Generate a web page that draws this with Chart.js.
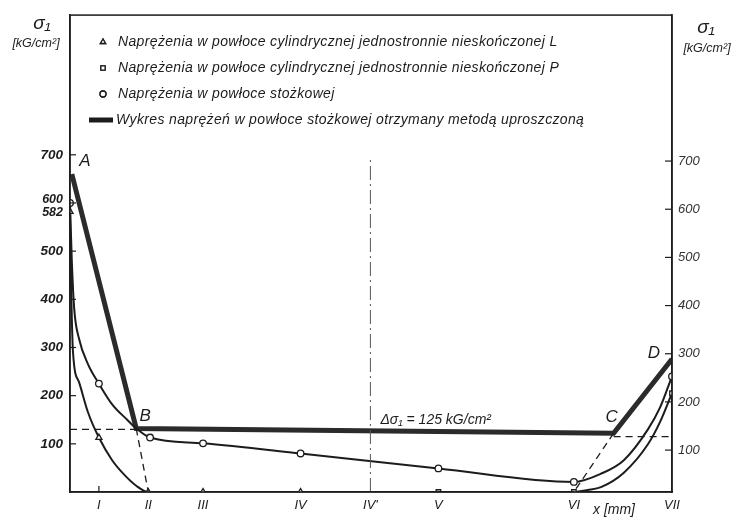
<!DOCTYPE html>
<html><head><meta charset="utf-8">
<script src="https://cdn.jsdelivr.net/npm/chart.js@4.4.0/dist/chart.umd.min.js"></script>
<style>html,body{margin:0;padding:0;background:#fff}#wrap{position:relative;width:745px;height:521px}</style>
</head><body><div id="wrap"><canvas id="c" width="745" height="521"></canvas></div>
<script>
// Stations along the shell (positions on the x axis, arbitrary length units)
const stationLabels = ['I','II','III','IV',"IV'",'V','VI','VII'];
const stationX = [4.8, 13.0, 22.1, 38.3, 49.9, 61.2, 83.7, 100];
const leftTicks = [100, 200, 300, 400, 500, 582, 600, 700];
const rightTicks = [100, 200, 300, 400, 500, 600, 700];

// Stresses in the conical shell (circles)
const conicalX = [0, 0.3, 0.7, 1.5, 3, 4.8, 7, 9.5, 11, 13.3, 22.1, 38.3, 61.2, 83.7, 88.2, 92, 96, 98, 100];
const conicalY = [600, 480, 380, 318, 265, 225, 182, 150, 132, 113, 101, 80, 49, 21, 38, 66, 130, 175, 240];
const conicalMarked = [0, 4.8, 13.3, 22.1, 38.3, 61.2, 83.7, 100];

// Stresses in the semi-infinite cylindrical shell L (triangles)
const cylLX = [0, 0.2, 0.5, 1.5, 3, 4.8, 7, 9, 11, 13.0, 22.1, 38.3, 49.9, 61.2, 83.7];
const cylLY = [582, 420, 290, 228, 165, 113, 66, 36, 13, 0, 0, 0, 0, 0, 0];
const cylLMarked = [0, 4.8, 13.0, 22.1, 38.3];

// Stresses in the semi-infinite cylindrical shell P (squares)
const cylPX = [61.2, 83.7, 86, 88.2, 92, 96, 98, 100];
const cylPY = [0, 0, 4, 10, 40, 99, 145, 205];
const cylPMarked = [61.2, 83.7, 100];

// Simplified method A-B-C-D (thick line)
const simpleX = [0.3, 11.0, 90.3, 100];
const simpleY = [660, 132, 122, 276];
const simpleNames = ['A', 'B', 'C', 'D'];

// Construction lines
const dashBX = [11.0, 13.0], dashBY = [132, 0];
const dashCX = [90.3, 83.7], dashCY = [122, 0];
const levelLeftX = [0, 11.0], levelLeftY = [130, 130];
const levelRightX = [90.3, 100], levelRightY = [115, 115];
const axisIVX = [49.9, 49.9], axisIVY = [0, 690];
const deltaLabel = 'Δσ₁ = 125 kG/cm²';

const legendItems = [
  {style: 'triangle', text: 'Naprężenia w powłoce cylindrycznej jednostronnie nieskończonej L'},
  {style: 'rect', text: 'Naprężenia w powłoce cylindrycznej jednostronnie nieskończonej P'},
  {style: 'circle', text: 'Naprężenia w powłoce stożkowej'},
  {style: 'line', text: 'Wykres naprężeń w powłoce stożkowej otrzymany metodą uproszczoną'}
];

const INK = '#1c1c1c';
const FONT = '"Liberation Sans", Arial, sans-serif';
const pts = (xs, ys) => xs.map((x, i) => ({x, y: ys[i]}));
const markR = (marked, r) => (c) => (c.raw && marked.includes(c.raw.x)) ? r : 0;
const nudged = {600: -3, 582: 1};

const datasets = [
  {label: 'axisIV', data: pts(axisIVX, axisIVY), showLine: true, borderColor: '#555', borderWidth: 1, borderDash: [14, 4, 2, 4], pointRadius: 0},
  {label: 'levelL', data: pts(levelLeftX, levelLeftY), showLine: true, borderColor: INK, borderWidth: 1.3, borderDash: [7, 5], pointRadius: 0},
  {label: 'levelR', data: pts(levelRightX, levelRightY), showLine: true, borderColor: INK, borderWidth: 1.3, borderDash: [7, 5], pointRadius: 0},
  {label: 'dashB', data: pts(dashBX, dashBY), showLine: true, borderColor: INK, borderWidth: 1.3, borderDash: [7, 5], pointRadius: 0},
  {label: 'dashC', data: pts(dashCX, dashCY), showLine: true, borderColor: INK, borderWidth: 1.3, borderDash: [7, 5], pointRadius: 0},
  {label: legendItems[0].text, data: pts(cylLX, cylLY), showLine: true, borderColor: INK, borderWidth: 2, cubicInterpolationMode: 'monotone',
   pointStyle: 'triangle', pointRadius: markR(cylLMarked, 3.5), pointBackgroundColor: '#fff', pointBorderColor: INK, pointBorderWidth: 1.3},
  {label: legendItems[1].text, data: pts(cylPX, cylPY), showLine: true, borderColor: INK, borderWidth: 2, cubicInterpolationMode: 'monotone',
   pointStyle: 'rect', pointRadius: markR(cylPMarked, 3.2), pointBackgroundColor: '#fff', pointBorderColor: INK, pointBorderWidth: 1.3},
  {label: legendItems[2].text, data: pts(conicalX, conicalY), showLine: true, borderColor: INK, borderWidth: 2, cubicInterpolationMode: 'monotone',
   pointStyle: 'circle', pointRadius: markR(conicalMarked, 3.3), pointBackgroundColor: '#fff', pointBorderColor: INK, pointBorderWidth: 1.3},
  {label: legendItems[3].text, data: pts(simpleX, simpleY), showLine: true, borderColor: '#2b2b2b', borderWidth: 5, pointRadius: 0, tension: 0}
];

const tickFont = {family: FONT, size: 13, style: 'italic'};

const decor = {
  id: 'decor',
  afterDraw(chart) {
    const {ctx, chartArea: a, scales} = chart;
    const x = scales.x, y = scales.y, y2 = scales.y2;
    ctx.save();
    // frame
    ctx.strokeStyle = INK; ctx.lineWidth = 1.5;
    ctx.strokeRect(a.left, a.top, a.right - a.left, a.bottom - a.top);
    // inner ticks
    ctx.lineWidth = 1.2;
    rightTicks.forEach(v => {
      const py = y.getPixelForValue(v);
      ctx.beginPath(); ctx.moveTo(a.left, py); ctx.lineTo(a.left + 6, py); ctx.stroke();
      const qy = y2.getPixelForValue(v);
      ctx.beginPath(); ctx.moveTo(a.right - 7, qy); ctx.lineTo(a.right, qy); ctx.stroke();
    });
    ctx.beginPath(); const px1 = x.getPixelForValue(stationX[0]);
    ctx.moveTo(px1, a.bottom); ctx.lineTo(px1, a.bottom - 6); ctx.stroke();

    ctx.fillStyle = INK; ctx.textBaseline = 'middle';
    // the two crowded left tick labels (600, 582), nudged apart
    ctx.font = 'italic bold 12.5px ' + FONT; ctx.textAlign = 'right';
    Object.keys(nudged).forEach(v => {
      ctx.fillText(String(v), a.left - 7, y.getPixelForValue(+v) + nudged[v]);
    });
    // axis titles
    ctx.font = 'italic 19px ' + FONT; ctx.textAlign = 'center';
    ctx.fillText('σ₁', 42, 24); ctx.fillText('σ₁', 706, 28);
    ctx.font = 'italic 12.5px ' + FONT;
    ctx.fillText('[kG/cm²]', 36, 44); ctx.fillText('[kG/cm²]', 707, 49);
    // point names
    ctx.font = 'italic 17px ' + FONT;
    const off = [[13, -13], [9, -12], [-2, -16], [-18, -6]];
    simpleNames.forEach((n, i) => {
      ctx.fillText(n, x.getPixelForValue(simpleX[i]) + off[i][0], y.getPixelForValue(simpleY[i]) + off[i][1]);
    });
    // delta label
    ctx.font = 'italic 14px ' + FONT; ctx.textAlign = 'left';
    ctx.fillText(deltaLabel, x.getPixelForValue(axisIVX[0]) + 10, y.getPixelForValue(150));
    // x axis unit
    ctx.fillText('x [mm]', 593, 510);
    // legend
    const lx = 103, ly0 = 42, dy = 26;
    legendItems.forEach((it, i) => {
      const ly = ly0 + i * dy;
      ctx.strokeStyle = INK; ctx.fillStyle = '#fff'; ctx.lineWidth = 1.3;
      if (it.style === 'line') {
        ctx.lineWidth = 5; ctx.beginPath(); ctx.moveTo(89, ly); ctx.lineTo(113, ly); ctx.stroke();
      } else {
        Chart.helpers.drawPoint(ctx, {pointStyle: it.style, radius: 3, borderWidth: 1.3}, lx, ly);
        ctx.fill(); ctx.stroke();
      }
      ctx.fillStyle = INK; ctx.font = 'italic 14px ' + FONT;
      ctx.letterSpacing = '0.35px';
      ctx.fillText(it.text, it.style === 'line' ? 116 : 118, ly);
      ctx.letterSpacing = '0px';
    });
    ctx.restore();
  }
};

new Chart(document.getElementById('c'), {
  type: 'scatter',
  data: {datasets},
  options: {
    responsive: false, animation: false, devicePixelRatio: 1,
    layout: {padding: {top: 12, left: 0, right: 0, bottom: 0}},
    plugins: {legend: {display: false}, tooltip: {enabled: false}},
    scales: {
      x: {type: 'linear', min: 0, max: 100,
        afterBuildTicks: ax => { ax.ticks = stationX.map(v => ({value: v})); },
        afterFit: ax => { ax.height = 29; },
        ticks: {autoSkip: false, maxRotation: 0, padding: 6, color: INK, font: tickFont,
          callback: (v, i) => stationLabels[i]},
        grid: {display: false, drawTicks: false}, border: {display: true, color: INK, width: 1.5}},
      y: {position: 'left', min: 0, max: 990,
        afterBuildTicks: ax => { ax.ticks = leftTicks.map(v => ({value: v})); },
        afterFit: ax => { ax.width = 70; },
        ticks: {autoSkip: false, padding: 7, color: INK,
          font: {family: FONT, size: 13.5, style: 'italic', weight: 'bold'},
          callback: v => (v in nudged) ? '' : String(v)},
        grid: {display: false, drawTicks: false}, border: {display: true, color: INK, width: 1.5}},
      y2: {position: 'right', min: 13, max: 1003,
        afterBuildTicks: ax => { ax.ticks = rightTicks.map(v => ({value: v})); },
        afterFit: ax => { ax.width = 73; },
        ticks: {autoSkip: false, padding: 6, color: '#333', font: {family: FONT, size: 13, style: 'italic'},
          callback: v => String(v)},
        grid: {display: false, drawTicks: false}, border: {display: true, color: INK, width: 1.5}}
    }
  },
  plugins: [decor]
});
</script></body></html>
